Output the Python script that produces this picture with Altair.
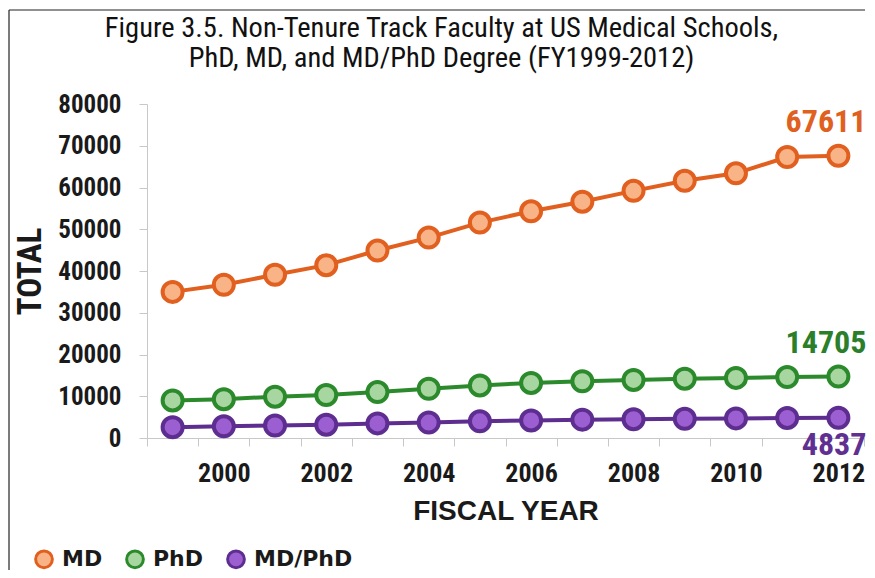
import altair as alt
import pandas as pd

years = list(range(1999, 2013))
md = [35000, 36700, 39100, 41400, 44900, 48000, 51600, 54300, 56600, 59200, 61600, 63400, 67300, 67611]
phd = [9000, 9300, 9900, 10300, 11000, 11800, 12600, 13200, 13600, 13900, 14200, 14400, 14600, 14705]
mdphd = [2600, 2800, 3000, 3200, 3500, 3700, 4000, 4200, 4400, 4500, 4600, 4700, 4800, 4837]

series_names = ["MD", "PhD", "MD/PhD"]
stroke_colors = ["#E2601F", "#2B8A2B", "#5E2D90"]
fill_colors = ["#F8B487", "#A8D6A0", "#9C5FD2"]
label_colors = ["#E0601F", "#2B7F2B", "#5F2F91"]

NARROW = "Liberation Sans Narrow, Arial Narrow, Roboto Condensed, DejaVu Sans Condensed, sans-serif"
BOLD = "Liberation Sans, Arial, sans-serif"
WIDE = "DejaVu Sans, Verdana, sans-serif"

rows = []
for name, vals in zip(series_names, [md, phd, mdphd]):
    for y, v in zip(years, vals):
        rows.append({"year": y, "series": name, "total": v})
df = pd.DataFrame(rows)

end_labels = pd.DataFrame({
    "year": [years[-1]] * 3,
    "series": series_names,
    "total": [md[-1], phd[-1], mdphd[-1]],
    "label": [str(md[-1]), str(phd[-1]), str(mdphd[-1])],
})

x_enc = alt.X(
    "year:O",
    scale=alt.Scale(paddingInner=0, paddingOuter=0),
    axis=alt.Axis(
        title="FISCAL YEAR",
        labelAngle=0,
        labelExpr="datum.value % 2 == 0 ? datum.label : ''",
        tickBand="extent",
        labelFont=NARROW,
        labelFontSize=26,
        labelFontWeight="bold",
        labelColor="#1a1a1a",
        labelPadding=14,
        tickSize=8,
        tickColor="#c8c8c8",
        domainColor="#c8c8c8",
        titleFont=BOLD,
        titleFontSize=28,
        titleFontWeight="bold",
        titleColor="#1a1a1a",
        titlePadding=11,
        grid=False,
    ),
)
y_enc = alt.Y(
    "total:Q",
    scale=alt.Scale(domain=[0, 80000]),
    axis=alt.Axis(
        title="TOTAL",
        values=list(range(0, 80001, 10000)),
        format="d",
        labelFont=NARROW,
        labelFontSize=25,
        labelFontWeight="bold",
        labelColor="#1a1a1a",
        labelPadding=18,
        tickSize=8,
        tickColor="#c8c8c8",
        domainColor="#c8c8c8",
        titleFont=NARROW,
        titleFontSize=33,
        titleFontWeight="bold",
        titleColor="#1a1a1a",
        titlePadding=10,
        grid=False,
    ),
)

base = alt.Chart(df)

lines = base.mark_line(strokeWidth=4).encode(
    x=x_enc,
    y=y_enc,
    color=alt.Color("series:N", scale=alt.Scale(domain=series_names, range=stroke_colors), legend=None),
    detail="series:N",
)

legend_opts = dict(
    title=None,
    orient="none",
    direction="horizontal",
    legendX=-114,
    legendY=444,
    symbolType="circle",
    symbolSize=280,
    symbolStrokeWidth=3,
    labelFont=WIDE,
    labelFontSize=22,
    labelFontWeight="bold",
    labelColor="#1a1a1a",
    labelOffset=7,
    columnPadding=17,
    padding=0,
)

points = base.mark_point(shape="circle", filled=True, opacity=1, size=400, strokeWidth=4, strokeOpacity=1).encode(
    x="year:O",
    y="total:Q",
    fill=alt.Fill(
        "series:N",
        scale=alt.Scale(domain=series_names, range=fill_colors),
        legend=alt.Legend(**legend_opts),
    ),
    stroke=alt.Stroke(
        "series:N",
        scale=alt.Scale(domain=series_names, range=stroke_colors),
        legend=alt.Legend(**legend_opts),
    ),
)

label_color_scale = alt.Scale(domain=series_names, range=label_colors)

labels_above = alt.Chart(end_labels).transform_filter(
    alt.FieldOneOfPredicate(field="series", oneOf=["MD", "PhD"])
).mark_text(
    align="right", baseline="alphabetic", dx=28, dy=-24,
    font=NARROW, fontSize=32, fontWeight="bold",
).encode(
    x="year:O", y="total:Q", text="label:N",
    color=alt.Color("series:N", scale=label_color_scale, legend=None),
)

labels_below = alt.Chart(end_labels).transform_filter(
    alt.FieldEqualPredicate(field="series", equal="MD/PhD")
).mark_text(
    align="right", baseline="alphabetic", dx=28, dy=37,
    font=NARROW, fontSize=32, fontWeight="bold",
).encode(
    x="year:O", y="total:Q", text="label:N",
    color=alt.Color("series:N", scale=label_color_scale, legend=None),
)

frame_df = pd.DataFrame({"a": [0]})
frame_left = alt.Chart(frame_df).mark_rule(color="#222222", strokeWidth=1.2).encode(
    x=alt.value(-138), y=alt.value(-94), y2=alt.value(470)
)
frame_top = alt.Chart(frame_df).mark_rule(color="#222222", strokeWidth=1.2).encode(
    x=alt.value(-138), x2=alt.value(718), y=alt.value(-94)
)

chart = alt.layer(frame_left, frame_top, lines, points, labels_above, labels_below).resolve_scale(
    color="independent"
).properties(
    width=717,
    height=334,
    autosize=alt.AutoSizeParams(type="none"),
    padding={"left": 139, "top": 96, "right": 3, "bottom": 132},
    background="white",
    title=alt.TitleParams(
        text=["Figure 3.5. Non-Tenure Track Faculty at US Medical Schools,",
              "PhD, MD, and MD/PhD Degree (FY1999-2012)"],
        font=NARROW,
        fontSize=28.5,
        fontWeight="normal",
        color="#111111",
        anchor="middle",
        frame="group",
        dx=-64,
        offset=-63,
        lineHeight=30,
    ),
).configure_view(stroke=None)

chart.save("out.html", embed_options={"renderer": "svg", "actions": False})
